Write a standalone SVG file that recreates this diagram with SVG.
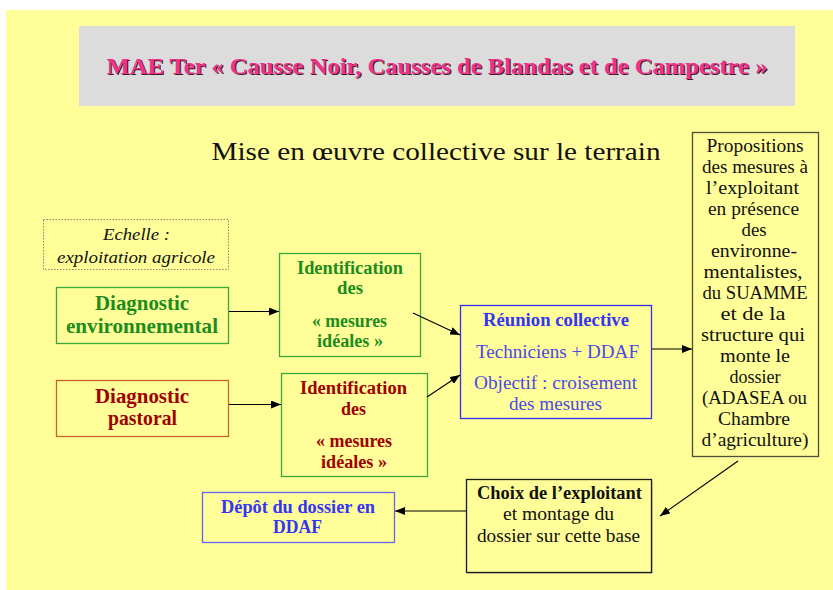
<svg xmlns="http://www.w3.org/2000/svg" width="833" height="590" viewBox="0 0 833 590">
  <defs>
    <marker id="ah" markerUnits="userSpaceOnUse" markerWidth="11" markerHeight="8" refX="10" refY="4" orient="auto">
      <path d="M0,0 L10,4 L0,8 z" fill="#000"/>
    </marker>
    <style>
      text { font-family: "Liberation Serif", "Times New Roman", serif; text-anchor: middle; }
      .box { fill: #FFFE99; stroke-width: 1.3; }
      .g { stroke: #3AA83A; }
      .gt { fill: #1C8C1C; font-weight: bold; font-size: 18px; }
      .rt { fill: #A00000; font-weight: bold; font-size: 18px; }
      .big { font-size: 21px; }
      .bt { fill: #3535F5; font-weight: bold; font-size: 18px; }
      .lt { fill: #4A4AE6; font-size: 18px; }
      .k { fill: #111; font-size: 18px; }
      .conn line { stroke: #000; stroke-width: 1.1; marker-end: url(#ah); }
    </style>
  </defs>

  <rect x="0" y="0" width="833" height="590" fill="#FFFFFF"/>
  <rect x="6" y="10" width="827" height="580" fill="#FFFE99"/>

  <g id="title">
    <rect x="79" y="26" width="716" height="80" fill="#DCDCDC"/>
    <text x="438.2" y="75" font-size="23" font-weight="bold" fill="#3A1A28" textLength="661" lengthAdjust="spacingAndGlyphs">MAE Ter « Causse Noir, Causses de Blandas et de Campestre »</text>
    <text x="437" y="74" font-size="23" font-weight="bold" fill="#F2328A" textLength="661" lengthAdjust="spacingAndGlyphs">MAE Ter « Causse Noir, Causses de Blandas et de Campestre »</text>
  </g>

  <g id="subtitle">
    <text x="436" y="160" font-size="26" fill="#111" textLength="449" lengthAdjust="spacingAndGlyphs">Mise en œuvre collective sur le terrain</text>
  </g>

  <g id="echelle">
    <rect x="43.5" y="219.5" width="185" height="50" fill="none" stroke="#8A8A70" stroke-width="1" stroke-dasharray="1.5,1.5"/>
    <text x="136.5" y="240" font-size="17" font-style="italic" fill="#111" textLength="67" lengthAdjust="spacingAndGlyphs">Echelle :</text>
    <text x="136" y="263" font-size="17" font-style="italic" fill="#111" textLength="158" lengthAdjust="spacingAndGlyphs">exploitation agricole</text>
  </g>

  <g id="diag-env">
    <rect class="box g" x="56.5" y="287.5" width="172" height="56"/>
    <text class="gt big" x="142" y="310" textLength="94" lengthAdjust="spacingAndGlyphs">Diagnostic</text>
    <text class="gt big" x="142" y="333" textLength="152" lengthAdjust="spacingAndGlyphs">environnemental</text>
  </g>

  <g id="diag-past">
    <rect class="box" stroke="#C8642E" x="56.5" y="380.5" width="172" height="56"/>
    <text class="rt big" x="142" y="403" textLength="94" lengthAdjust="spacingAndGlyphs">Diagnostic</text>
    <text class="rt big" x="142.5" y="425" textLength="69" lengthAdjust="spacingAndGlyphs">pastoral</text>
  </g>

  <g id="ident-env">
    <rect class="box g" x="279.5" y="253.5" width="141" height="103"/>
    <text class="gt" x="350" y="274" textLength="106" lengthAdjust="spacingAndGlyphs">Identification</text>
    <text class="gt" x="350" y="294" textLength="26" lengthAdjust="spacingAndGlyphs">des</text>
    <text class="gt" x="349.5" y="327" textLength="75" lengthAdjust="spacingAndGlyphs">« mesures</text>
    <text class="gt" x="350" y="347" textLength="66" lengthAdjust="spacingAndGlyphs">idéales »</text>
  </g>

  <g id="ident-past">
    <rect class="box g" x="281.5" y="373.5" width="146" height="103"/>
    <text class="rt" x="353.5" y="394" textLength="107" lengthAdjust="spacingAndGlyphs">Identification</text>
    <text class="rt" x="353.5" y="415" textLength="25" lengthAdjust="spacingAndGlyphs">des</text>
    <text class="rt" x="354" y="447" textLength="76" lengthAdjust="spacingAndGlyphs">« mesures</text>
    <text class="rt" x="354" y="468" textLength="66" lengthAdjust="spacingAndGlyphs">idéales »</text>
  </g>

  <g id="reunion">
    <rect class="box" stroke="#2E2EF0" x="460.5" y="305.5" width="191" height="113"/>
    <text class="bt" x="556" y="326" textLength="146" lengthAdjust="spacingAndGlyphs">Réunion collective</text>
    <text class="lt" x="557.5" y="358" textLength="163" lengthAdjust="spacingAndGlyphs">Techniciens + DDAF</text>
    <text class="lt" x="555.5" y="389" textLength="163" lengthAdjust="spacingAndGlyphs">Objectif : croisement</text>
    <text class="lt" x="555.5" y="410" textLength="93" lengthAdjust="spacingAndGlyphs">des mesures</text>
  </g>

  <g id="propositions">
    <rect class="box" stroke="#4E4E3A" x="692.5" y="132.5" width="126" height="324"/>
    <text class="k" x="755" y="152" textLength="97" lengthAdjust="spacingAndGlyphs">Propositions</text>
    <text class="k" x="755" y="173" textLength="106" lengthAdjust="spacingAndGlyphs">des mesures à</text>
    <text class="k" x="752.5" y="194" textLength="93" lengthAdjust="spacingAndGlyphs">l’exploitant</text>
    <text class="k" x="753.5" y="215" textLength="91" lengthAdjust="spacingAndGlyphs">en présence</text>
    <text class="k" x="754" y="236" textLength="25" lengthAdjust="spacingAndGlyphs">des</text>
    <text class="k" x="754" y="257" textLength="86" lengthAdjust="spacingAndGlyphs">environne-</text>
    <text class="k" x="753" y="278" textLength="99" lengthAdjust="spacingAndGlyphs">mentalistes,</text>
    <text class="k" x="755" y="299" textLength="105" lengthAdjust="spacingAndGlyphs">du SUAMME</text>
    <text class="k" x="753" y="320" textLength="65" lengthAdjust="spacingAndGlyphs">et de la</text>
    <text class="k" x="753" y="341" textLength="104" lengthAdjust="spacingAndGlyphs">structure qui</text>
    <text class="k" x="755" y="362" textLength="70" lengthAdjust="spacingAndGlyphs">monte le</text>
    <text class="k" x="755" y="383" textLength="51" lengthAdjust="spacingAndGlyphs">dossier</text>
    <text class="k" x="754.5" y="404" textLength="105" lengthAdjust="spacingAndGlyphs">(ADASEA ou</text>
    <text class="k" x="754" y="425" textLength="72" lengthAdjust="spacingAndGlyphs">Chambre</text>
    <text class="k" x="755" y="446" textLength="107" lengthAdjust="spacingAndGlyphs">d’agriculture)</text>
  </g>

  <g id="choix">
    <rect x="468" y="481" width="185" height="93" fill="#D8D7A0"/>
    <rect class="box" stroke="#1A1A1A" x="466.5" y="479.5" width="185" height="93"/>
    <text class="k" x="559.5" y="499" font-weight="bold" textLength="165" lengthAdjust="spacingAndGlyphs">Choix de l’exploitant</text>
    <text class="k" x="558.5" y="520" textLength="111" lengthAdjust="spacingAndGlyphs">et montage du</text>
    <text class="k" x="558.5" y="542" textLength="163" lengthAdjust="spacingAndGlyphs">dossier sur cette base</text>
  </g>

  <g id="depot">
    <rect class="box" stroke="#6464F5" x="202.5" y="492.5" width="192" height="50"/>
    <text class="bt" x="298" y="513" textLength="154" lengthAdjust="spacingAndGlyphs">Dépôt du dossier en</text>
    <text class="bt" x="297.5" y="533" textLength="49" lengthAdjust="spacingAndGlyphs">DDAF</text>
  </g>

  <g id="connectors" class="conn">
    <line x1="229" y1="311.5" x2="279" y2="311.5"/>
    <line x1="229" y1="404.5" x2="281" y2="404.5"/>
    <line x1="413" y1="313" x2="460" y2="335"/>
    <line x1="427" y1="397" x2="460" y2="375"/>
    <line x1="652" y1="349" x2="692" y2="349"/>
    <line x1="738" y1="461" x2="660" y2="516"/>
    <line x1="466" y1="511" x2="395" y2="511"/>
  </g>
</svg>
